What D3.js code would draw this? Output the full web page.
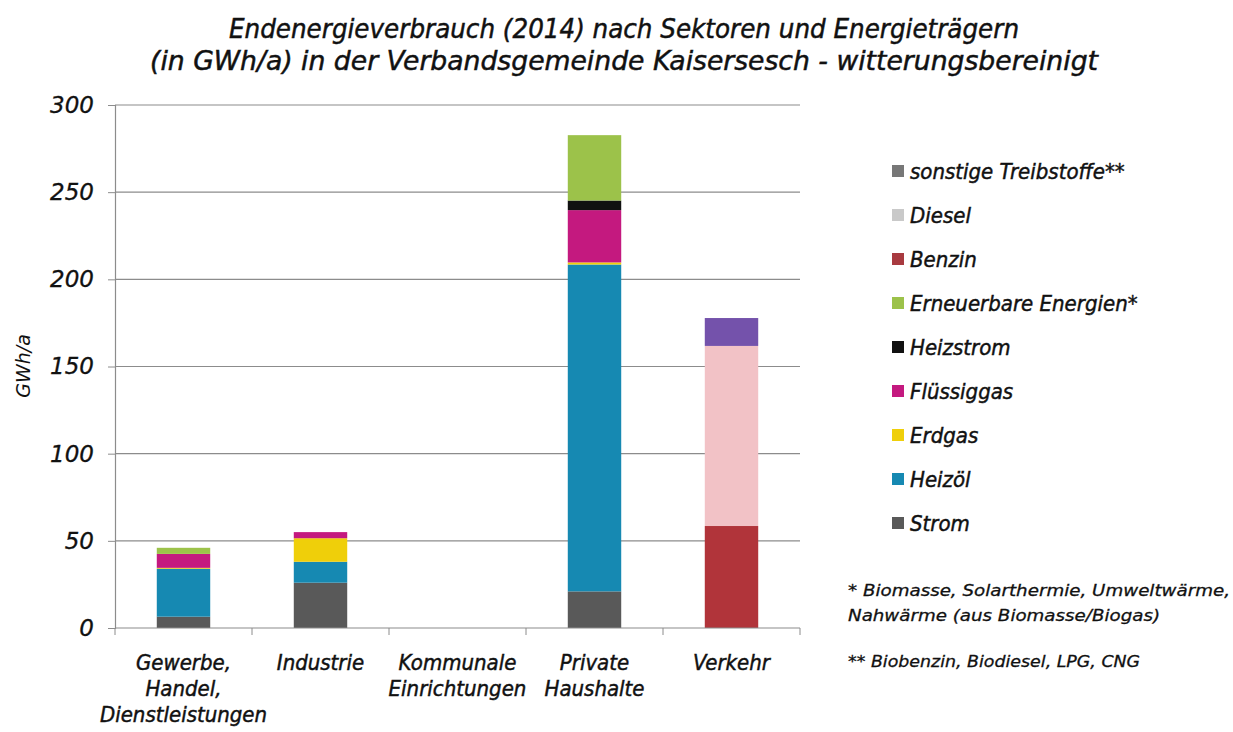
<!DOCTYPE html>
<html>
<head>
<meta charset="utf-8">
<script src="https://cdn.jsdelivr.net/npm/d3@7"></script>
<style>
  body { margin: 0; background: #fff; }
  svg text { fill: #111; }
  .cond { font-family: "DejaVu Sans Condensed", "Liberation Sans Narrow", sans-serif; font-style: italic; stroke: #111; stroke-width: 0.45px; }
  .norm { font-family: "DejaVu Sans", "Liberation Sans", sans-serif; font-style: italic; }
</style>
</head>
<body>
<svg id="chart" width="1233" height="732"></svg>
<script>
const width = 1233;
const height = 732;
const svg = d3.select("#chart");

// Sektoren (Kategorien)
const sektoren = [
  ["Gewerbe,", "Handel,", "Dienstleistungen"],
  ["Industrie"],
  ["Kommunale", "Einrichtungen"],
  ["Private", "Haushalte"],
  ["Verkehr"]
];

// Energieträger, von unten nach oben gestapelt
const traeger = ["Strom", "Heizöl", "Erdgas", "Flüssiggas", "Heizstrom",
  "Erneuerbare Energien*", "Benzin", "Diesel", "sonstige Treibstoffe**"];

const farben = ["#595959", "#1689b2", "#efcf0a", "#c4197f", "#111111",
  "#9cc24a", "#b1343a", "#f2c2c6", "#7452ab"];
const legendenFarben = ["#595959", "#1689b2", "#efcf0a", "#c4197f", "#111111",
  "#9cc24a", "#a83a40", "#c9c9c9", "#777777"];

// Werte in GWh/a je Sektor, Reihenfolge wie traeger
const strom       = [6.5, 26, 0, 21, 0];
const heizoel     = [27.5, 12, 0, 187.5, 0];
const erdgas      = [0.5, 13.5, 0, 1.2, 0];
const fluessiggas = [8, 3.5, 0, 30, 0];
const heizstrom   = [0, 0, 0, 5.5, 0];
const erneuerbare = [3.5, 0, 0, 37.5, 0];
const benzin      = [0, 0, 0, 0, 58.5];
const diesel      = [0, 0, 0, 0, 103.3];
const sonstige    = [0, 0, 0, 0, 16];

const reihen = [strom, heizoel, erdgas, fluessiggas, heizstrom, erneuerbare, benzin, diesel, sonstige];

const yTicks = [0, 50, 100, 150, 200, 250, 300];

const titel = [
  "Endenergieverbrauch (2014) nach Sektoren und Energieträgern",
  "(in GWh/a) in der Verbandsgemeinde Kaisersesch - witterungsbereinigt"
];
const fussnoten = [
  "* Biomasse, Solarthermie, Umweltwärme,",
  "Nahwärme (aus Biomasse/Biogas)",
  "** Biobenzin, Biodiesel, LPG, CNG"
];

const plot = { left: 115, right: 800, top: 105, bottom: 628 };

const x = d3.scaleBand()
  .domain(d3.range(sektoren.length))
  .range([plot.left, plot.right])
  .paddingInner(0.61)
  .paddingOuter(0.305);

const y = d3.scaleLinear().domain([0, 300]).range([plot.bottom, plot.top]);

const tabelle = sektoren.map((s, i) => {
  const o = { i };
  traeger.forEach((t, k) => { o[t] = reihen[k][i]; });
  return o;
});
const stapel = d3.stack().keys(traeger)(tabelle);

// Titel
svg.append("g").selectAll("text")
  .data(titel)
  .join("text")
  .attr("class", "cond")
  .attr("x", 624)
  .attr("y", (d, i) => 38 + i * 32)
  .attr("text-anchor", "middle")
  .attr("font-size", 27)
  .attr("textLength", (d, i) => [790, 948][i])
  .attr("lengthAdjust", "spacingAndGlyphs")
  .text(d => d);

// Gitterlinien
svg.append("g").selectAll("line")
  .data(yTicks.filter(d => d > 0))
  .join("line")
  .attr("x1", plot.left).attr("x2", plot.right)
  .attr("y1", d => y(d)).attr("y2", d => y(d))
  .attr("stroke", "#8c8c8c").attr("stroke-width", 1.2);

// Balken
svg.append("g").selectAll("g")
  .data(stapel)
  .join("g")
  .attr("fill", (d, k) => farben[k])
  .selectAll("rect")
  .data(d => d)
  .join("rect")
  .attr("x", d => x(d.data.i))
  .attr("width", x.bandwidth())
  .attr("y", d => y(d[1]))
  .attr("height", d => Math.max(0, y(d[0]) - y(d[1])));

// y-Achse
const yAxis = svg.append("g")
  .attr("transform", `translate(${plot.left},0)`)
  .call(d3.axisLeft(y).tickValues(yTicks).tickSize(7).tickPadding(14));
yAxis.select(".domain").attr("stroke", "#8c8c8c").attr("stroke-width", 1.2);
yAxis.selectAll(".tick line").attr("stroke", "#8c8c8c");
yAxis.selectAll("text")
  .attr("class", "norm")
  .attr("font-size", 23)
  .attr("fill", "#111")
  .attr("stroke", "#111")
  .attr("stroke-width", 0.3);

svg.append("text")
  .attr("class", "norm")
  .attr("transform", "translate(30,366) rotate(-90)")
  .attr("text-anchor", "middle")
  .attr("font-size", 19)
  .text("GWh/a");

// x-Achse
svg.append("line")
  .attr("x1", plot.left).attr("x2", plot.right)
  .attr("y1", plot.bottom).attr("y2", plot.bottom)
  .attr("stroke", "#8c8c8c").attr("stroke-width", 1.2);

const step = x.step();
svg.append("g").selectAll("line")
  .data(d3.range(sektoren.length + 1))
  .join("line")
  .attr("x1", d => plot.left + d * step).attr("x2", d => plot.left + d * step)
  .attr("y1", plot.bottom).attr("y2", plot.bottom + 7)
  .attr("stroke", "#8c8c8c");

const kat = svg.append("g").selectAll("text")
  .data(sektoren)
  .join("text")
  .attr("class", "cond")
  .attr("font-size", 22)
  .attr("text-anchor", "middle");
kat.selectAll("tspan")
  .data((d, i) => d.map(z => ({ z, i })))
  .join("tspan")
  .attr("x", d => x(d.i) + x.bandwidth() / 2)
  .attr("y", (d, j) => 670 + j * 26)
  .text(d => d.z);

// Legende (oben: letzter Energieträger)
const legende = traeger.map((t, k) => ({ t, k })).reverse();
const lg = svg.append("g").selectAll("g")
  .data(legende)
  .join("g")
  .attr("transform", (d, i) => `translate(892,${171 + i * 44})`);
lg.append("rect")
  .attr("x", 0).attr("y", -6).attr("width", 12).attr("height", 12)
  .attr("fill", d => legendenFarben[d.k]);
lg.append("text")
  .attr("class", "cond")
  .attr("x", 18).attr("y", 8)
  .attr("font-size", 22)
  .text(d => d.t);

// Fußnoten
svg.append("g").selectAll("text")
  .data(fussnoten)
  .join("text")
  .attr("class", "norm")
  .attr("x", 848)
  .attr("y", (d, i) => [596, 621, 667][i])
  .attr("font-size", 16)
  .attr("stroke", "#111")
  .attr("stroke-width", 0.3)
  .attr("textLength", (d, i) => [382, 312, 292][i])
  .attr("lengthAdjust", "spacingAndGlyphs")
  .text(d => d);
</script>
</body>
</html>
